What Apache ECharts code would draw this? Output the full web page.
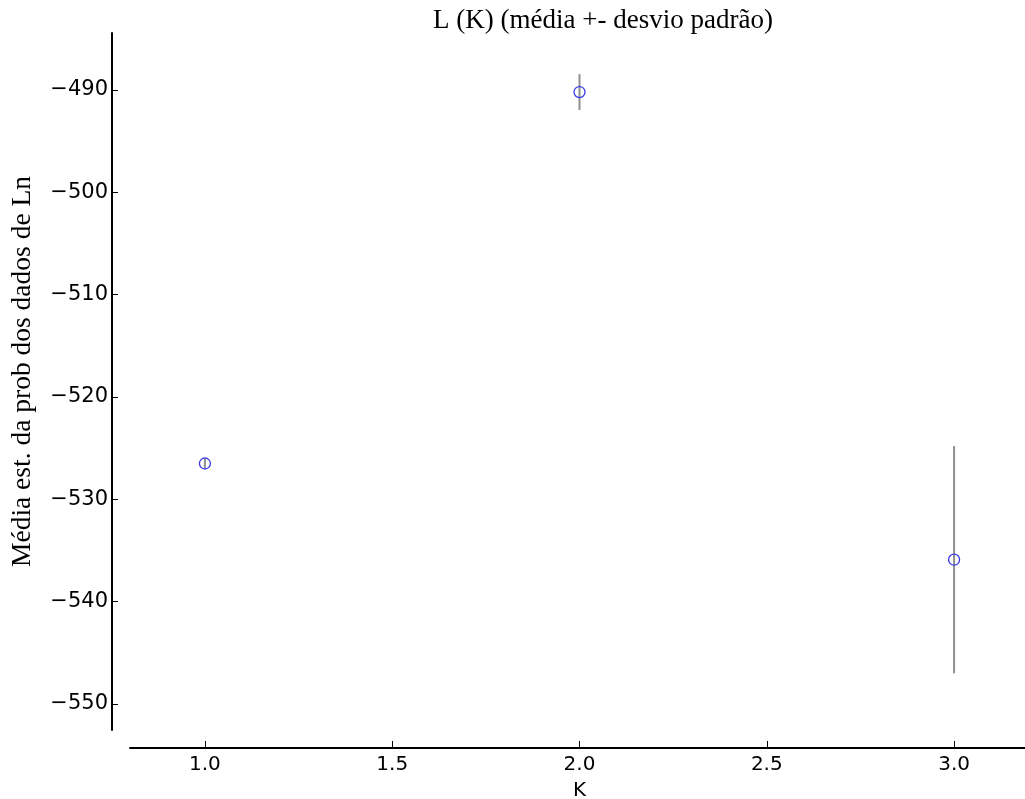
<!DOCTYPE html>
<html>
<head>
<meta charset="utf-8">
<title>L (K)</title>
<script src="https://cdn.jsdelivr.net/npm/echarts@6/dist/echarts.min.js"></script>
<style>
  html, body { margin: 0; padding: 0; background: #fff; }
  #chart { width: 1025px; height: 799px; }
</style>
</head>
<body>
<div id="chart"></div>
<script>
// Estimated Ln probability of the data per K: mean and standard deviation
const kValues = [1, 2, 3];
const meanLnP = [-526.5, -490.2, -535.9];
const stdLnP = [0.45, 1.75, 11.1];

const xTicks = [1.0, 1.5, 2.0, 2.5, 3.0];
const yTicks = [-550, -540, -530, -520, -510, -500, -490];

const titleText = 'L (K) (média +- desvio padrão)';
const xName = 'K';
const yName = 'Média est. da prob dos dados de Ln';

const points = kValues.map((k, i) => [k, meanLnP[i]]);
const bars = kValues.map((k, i) => [k, meanLnP[i] - stdLnP[i], meanLnP[i] + stdLnP[i]]);

const sansFont = '"DejaVu Sans", sans-serif';
const serifFont = '"Liberation Serif", "DejaVu Serif", serif';

const chart = echarts.init(document.getElementById('chart'), null, { renderer: 'canvas' });

chart.setOption({
  animation: false,
  backgroundColor: '#ffffff',
  title: {
    text: titleText,
    left: 598,
    top: 2,
    textAlign: 'center',
    textStyle: { fontFamily: serifFont, fontSize: 27, fontWeight: 'normal', color: '#000' }
  },
  grid: { left: 130, right: -4, top: 33, bottom: 69, containLabel: false, outerBoundsMode: 'none' },
  xAxis: {
    type: 'value',
    min: 0.8,
    max: 3.2,
    offset: 18,
    name: xName,
    nameLocation: 'middle',
    nameGap: 33,
    nameTextStyle: { fontFamily: sansFont, fontSize: 20, color: '#000' },
    axisLine: { show: true, lineStyle: { color: '#000', width: 2 } },
    axisTick: { show: true, inside: true, length: 7, lineStyle: { color: '#000', width: 1 }, customValues: xTicks },
    axisLabel: {
      show: true, margin: 7, fontFamily: sansFont, fontSize: 20, color: '#000',
      customValues: xTicks,
      formatter: v => v.toFixed(1)
    },
    splitLine: { show: false }
  },
  yAxis: {
    type: 'value',
    min: -552.54,
    max: -484.43,
    offset: 18,
    name: yName,
    nameLocation: 'middle',
    nameGap: 75,
    nameTextStyle: { fontFamily: serifFont, fontSize: 27.5, color: '#000', padding: [0, 0, 0, 20] },
    axisLine: { show: true, lineStyle: { color: '#000', width: 2 } },
    axisTick: { show: true, inside: true, length: 6, lineStyle: { color: '#000', width: 1 }, customValues: yTicks },
    axisLabel: {
      show: true, margin: 4, fontFamily: sansFont, fontSize: 21, color: '#000',
      customValues: yTicks,
      formatter: v => String(v).replace('-', '\u2212')
    },
    splitLine: { show: false }
  },
  series: [
    {
      name: 'desvio',
      type: 'custom',
      z: 2,
      clip: false,
      data: bars,
      renderItem: (params, api) => {
        const x = api.value(0);
        const lo = api.coord([x, api.value(1)]);
        const hi = api.coord([x, api.value(2)]);
        return {
          type: 'line',
          shape: { x1: lo[0], y1: lo[1], x2: hi[0], y2: hi[1] },
          style: { stroke: '#8e8e8e', lineWidth: 2 }
        };
      }
    },
    {
      name: 'média',
      type: 'scatter',
      z: 3,
      data: points,
      symbol: 'circle',
      symbolSize: 11,
      itemStyle: { color: 'rgba(0,0,0,0)', borderColor: '#3a3ae6', borderWidth: 1.3, opacity: 1 },
      emphasis: { disabled: true }
    }
  ]
});
</script>
</body>
</html>
